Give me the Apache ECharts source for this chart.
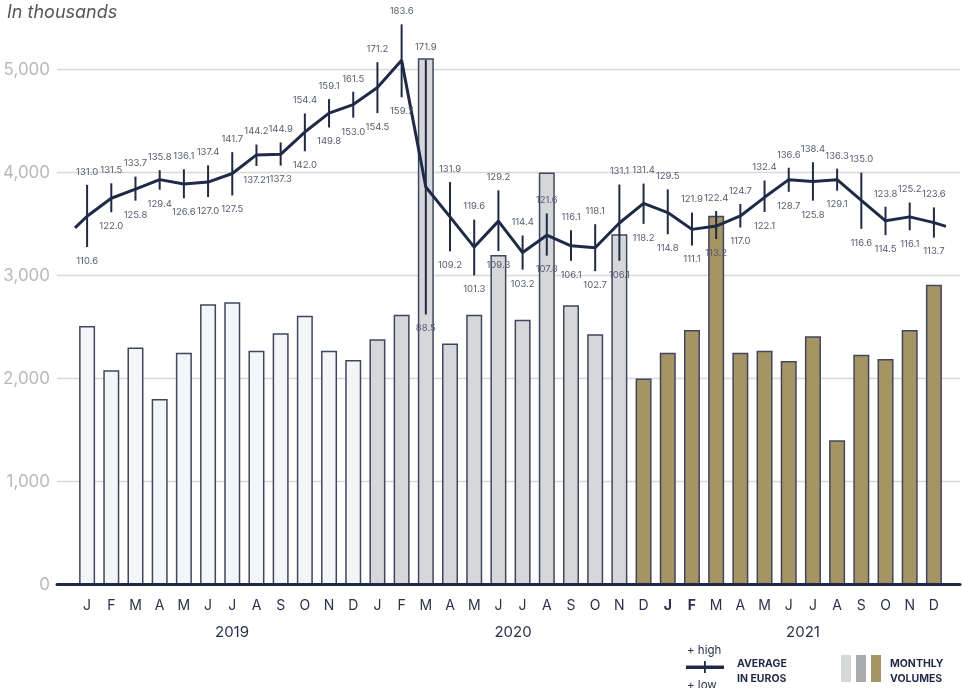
<!DOCTYPE html>
<html>
<head>
<meta charset="utf-8">
<script src="https://cdn.jsdelivr.net/npm/echarts@6/dist/echarts.min.js"></script>
<style>
html,body{margin:0;padding:0;background:#fff;}
#chart{width:962px;height:688px;}
</style>
</head>
<body>
<div id="chart"></div>
<script>
// ---- data ----
const months = ['J','F','M','A','M','J','J','A','S','O','N','D',
                'J','F','M','A','M','J','J','A','S','O','N','D',
                'J','F','M','A','M','J','J','A','S','O','N','D'];
const yearLabels = ['2019','2020','2021'];
const yTicks = [0, 1000, 2000, 3000, 4000, 5000];
// monthly volumes (thousands), grouped by colour period
const volumesP1 = [2510,2080,2300,1800,2250,2720,2740,2270,2440,2610,2270,2180];          // Jan–Dec 2019
const volumesP2 = [2380,2620,5110,2340,2620,3200,2570,4000,2710,2430,3400];               // Jan–Nov 2020
const volumesP3 = [2000,2250,2470,3580,2250,2270,2170,2410,1400,2230,2190,2470,2910];     // Dec 2020–Dec 2021
// average price in euros (thousands), high and low
const avgValues = [120.7,126.6,129.6,132.7,131.3,131.9,134.7,140.8,141.0,148.3,154.5,157.3,
                   162.9,171.8,130.3,120.5,110.6,119.1,108.8,114.5,111.0,110.4,118.5,
                   124.9,121.9,116.4,117.5,120.8,126.9,132.7,132.1,132.7,125.9,119.2,120.5,118.6];
const avgLead = 116.9;   // value at left edge of the plot
const avgTail = 117.4;   // value at right edge of the plot
const highs = [131.0,131.5,133.7,135.8,136.1,137.4,141.7,144.2,144.9,154.4,159.1,161.5,
               171.2,183.6,171.9,131.9,119.6,129.2,114.4,121.6,116.1,118.1,131.1,
               131.4,129.5,121.9,122.4,124.7,132.4,136.6,138.4,136.3,135.0,123.8,125.2,123.6];
const lows  = [110.6,122.0,125.8,129.4,126.6,127.0,127.5,137.21,137.3,142.0,149.8,153.0,
               154.5,159.7,88.5,109.2,101.3,109.3,103.2,107.8,106.1,102.7,106.1,
               118.2,114.8,111.1,113.2,117.0,122.1,128.7,125.8,129.1,116.6,114.5,116.1,113.7];

// ---- styles ----
const NAVY = '#1f2a48';
const TXT = '#2a3050';
const LBL = '#565c72';
const periodColors = ['#f3f6f7', '#d6d7d9', '#a69562'];
const FONT = 'Inter, "Open Sans", sans-serif';

const barData = [];
[volumesP1, volumesP2, volumesP3].forEach((arr, p) => {
  arr.forEach(v => barData.push({ value: v, itemStyle: { color: periodColors[p] } }));
});
const lineData = [[-0.5, avgLead]].concat(avgValues.map((v, i) => [i, v])).concat([[35.5, avgTail]]);
const fmt = v => Number.isInteger(Math.round(v * 100) / 10) ? v.toFixed(1) : String(v);

const GRID_TOP = 69.5, GRID_BOTTOM = 103.5;
const SEC_MAX = 168.8;

const chart = echarts.init(document.getElementById('chart'));
chart.setOption({
  animation: false,
  backgroundColor: '#fff',
  textStyle: { fontFamily: FONT },
  grid: [
    { left: 57, right: 2, top: GRID_TOP, bottom: GRID_BOTTOM },
    { left: 75, right: 16, top: GRID_TOP, bottom: GRID_BOTTOM }
  ],
  xAxis: [
    { gridIndex: 0, type: 'value', min: 0, max: 1, z: 10,
      axisLine: { show: true, lineStyle: { color: NAVY, width: 3 } },
      axisTick: { show: false }, axisLabel: { show: false }, splitLine: { show: false } },
    { gridIndex: 1, type: 'category', data: months,
      axisLine: { show: false }, axisTick: { show: false },
      axisLabel: { interval: 0, hideOverlap: false, color: TXT, fontSize: 14, margin: 14, fontFamily: FONT,
        formatter: (v, i) => (i === 24 || i === 25) ? '{b|' + v + '}' : v,
        rich: { b: { fontWeight: 'bold', color: TXT, fontSize: 14, fontFamily: FONT } } } },
    { gridIndex: 1, type: 'value', min: -0.5, max: 35.5, show: false }
  ],
  yAxis: [
    { gridIndex: 0, type: 'value', min: yTicks[0], max: yTicks[yTicks.length - 1], interval: 1000,
      axisLine: { show: false }, axisTick: { show: false },
      axisLabel: { color: '#b9b9b9', fontSize: 17, margin: 7, fontFamily: FONT,
        formatter: v => v.toLocaleString('en-US') },
      splitLine: { lineStyle: { color: '#d8d8d8', width: 1.3 } } },
    { gridIndex: 1, type: 'value', min: 0, max: 5000, show: false },
    { gridIndex: 1, type: 'value', min: 0, max: SEC_MAX, show: false }
  ],
  series: [
    { type: 'bar', xAxisIndex: 1, yAxisIndex: 1, data: barData, barWidth: 16, z: 2, clip: false,
      itemStyle: { borderColor: '#3f4661', borderWidth: 1.5 } },
    { type: 'line', xAxisIndex: 2, yAxisIndex: 2, data: lineData, symbol: 'none', clip: false, z: 5,
      lineStyle: { color: NAVY, width: 3 } },
    { type: 'custom', xAxisIndex: 1, yAxisIndex: 2, clip: false, z: 6,
      data: highs.map((h, i) => [i, h, lows[i]]),
      renderItem: (params, api) => {
        const i = api.value(0);
        const top = api.coord([i, api.value(1)]);
        const bot = api.coord([i, api.value(2)]);
        const font = { fontSize: 9.5, fontFamily: FONT, fill: LBL, align: 'center', verticalAlign: 'middle' };
        return { type: 'group', children: [
          { type: 'line', shape: { x1: top[0], y1: top[1], x2: bot[0], y2: bot[1] },
            style: { stroke: NAVY, lineWidth: 2 } },
          { type: 'text', style: Object.assign({ text: fmt(highs[i]), x: top[0], y: top[1] - 13 }, font) },
          { type: 'text', style: Object.assign({ text: fmt(lows[i]), x: bot[0], y: bot[1] + 14 }, font) }
        ] };
      } }
  ],
  graphic: [
    { type: 'text', left: 7, top: 4, style: { text: 'In thousands', fontSize: 18, fontStyle: 'italic', fill: '#555', fontFamily: FONT } },
    { type: 'text', x: 232, y: 632, style: { text: yearLabels[0], fontSize: 15, fill: TXT, align: 'center', verticalAlign: 'middle', fontFamily: FONT } },
    { type: 'text', x: 513, y: 632, style: { text: yearLabels[1], fontSize: 15, fill: TXT, align: 'center', verticalAlign: 'middle', fontFamily: FONT } },
    { type: 'text', x: 803, y: 632, style: { text: yearLabels[2], fontSize: 15, fill: TXT, align: 'center', verticalAlign: 'middle', fontFamily: FONT } },
    // legend
    { type: 'text', x: 687, y: 651, style: { text: '+ high', fontSize: 11.5, fill: TXT, verticalAlign: 'middle', fontFamily: FONT } },
    { type: 'rect', shape: { x: 686, y: 665.5, width: 38, height: 3.5 }, style: { fill: NAVY } },
    { type: 'rect', shape: { x: 704, y: 661, width: 1.8, height: 12 }, style: { fill: NAVY } },
    { type: 'text', x: 687, y: 686, style: { text: '+ low', fontSize: 11.5, fill: TXT, verticalAlign: 'middle', fontFamily: FONT } },
    { type: 'text', x: 737, y: 664, style: { text: 'AVERAGE', fontSize: 10.5, fontWeight: 'bold', fill: NAVY, verticalAlign: 'middle', fontFamily: FONT } },
    { type: 'text', x: 737, y: 678.5, style: { text: 'IN EUROS', fontSize: 10.5, fontWeight: 'bold', fill: NAVY, verticalAlign: 'middle', fontFamily: FONT } },
    { type: 'rect', shape: { x: 841, y: 655, width: 10, height: 27 }, style: { fill: '#d6d7d9' } },
    { type: 'rect', shape: { x: 856, y: 655, width: 10, height: 27 }, style: { fill: '#a9aaae' } },
    { type: 'rect', shape: { x: 871, y: 655, width: 10, height: 27 }, style: { fill: '#a69562' } },
    { type: 'text', x: 890, y: 664, style: { text: 'MONTHLY', fontSize: 10.5, fontWeight: 'bold', fill: NAVY, verticalAlign: 'middle', fontFamily: FONT } },
    { type: 'text', x: 890, y: 678.5, style: { text: 'VOLUMES', fontSize: 10.5, fontWeight: 'bold', fill: NAVY, verticalAlign: 'middle', fontFamily: FONT } }
  ]
});
</script>
</body>
</html>
